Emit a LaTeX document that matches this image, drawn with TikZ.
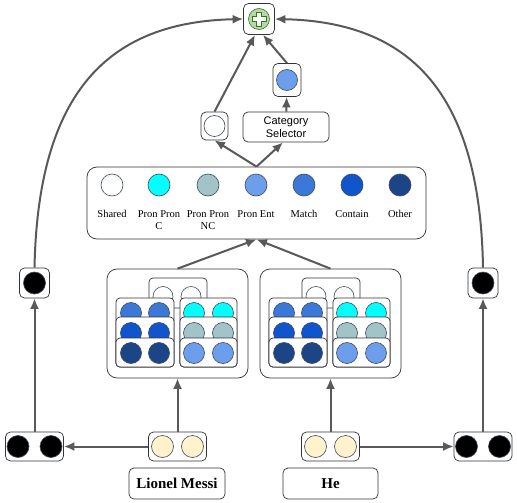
\documentclass[tikz,border=0pt]{standalone}
\usepackage{fontspec}
\setmainfont{Liberation Serif}
\newfontfamily\catfont{Liberation Sans}
\usetikzlibrary{arrows.meta}
\definecolor{myGray}{HTML}{595959}
\definecolor{myLine}{HTML}{333333}
\definecolor{myRim}{HTML}{3d4a5c}
\definecolor{myGreen}{HTML}{b6d7a8}
\definecolor{myGreenRim}{HTML}{38761d}
\definecolor{myYellow}{HTML}{fff2cc}
\definecolor{pronC}{HTML}{00ffff}
\definecolor{pronNC}{HTML}{a2c4c9}
\definecolor{pronEnt}{HTML}{6d9eeb}
\definecolor{match}{HTML}{3c78d8}
\definecolor{contain}{HTML}{1155cc}
\definecolor{other}{HTML}{1c4587}

\begin{document}
\begin{tikzpicture}[x=1pt, y=-1pt, >={Latex[length=10.5pt,width=9pt]}]

  \tikzstyle{Box}=[rectangle, rounded corners=5pt, draw=myLine, fill=white, line width=0.7pt, inner sep=0pt]
  \tikzstyle{Card}=[rounded corners=4pt, draw=myLine, fill=white, line width=0.7pt]
  \tikzstyle{Dot}=[circle, draw=myRim, line width=0.6pt, minimum size=21pt, inner sep=0pt]
  \tikzstyle{Arr}=[->, draw=myGray, line width=2pt]
  \tikzstyle{Lbl}=[anchor=north, inner sep=0pt, align=center, font=\fontsize{10.5}{12}\selectfont]
  \tikzstyle{Word}=[font=\fontsize{15}{18}\selectfont\bfseries]

  \useasboundingbox (0,0) rectangle (517,503);

  % top: sum of the two scores
  \node[Box, minimum width=31pt, minimum height=31pt] at (259,19) (plus) {};
  \node[Dot, fill=myGreen, draw=myGreenRim] at (plus) (plusdot) {};
  \begin{scope}[shift={(259,19)}]
    \draw[fill=white, draw=myGreenRim, line width=0.6pt] (-2.5,-7) -- (2.5,-7) -- (2.5,-2.5) -- (7,-2.5) -- (7,2.5) -- (2.5,2.5) -- (2.5,7) -- (-2.5,7) -- (-2.5,2.5) -- (-7,2.5) -- (-7,-2.5) -- (-2.5,-2.5) -- cycle;
  \end{scope}

  \node[Box, minimum width=28pt, minimum height=33pt] at (287,80) (bsel) {};
  \node[Dot, fill=pronEnt] at (bsel) (bseldot) {};
  \node[Box, minimum width=27pt, minimum height=28pt] at (214.5,126) (wsel) {};
  \node[Dot, fill=white] at (wsel) (wseldot) {};
  \node[Box, minimum width=86pt, minimum height=30pt, align=center, font=\catfont\fontsize{11}{13}\selectfont] at (286,127) (cat) {Category\\Selector};

  % legend of the categories
  \node[Box, rounded corners=10pt, minimum width=339pt, minimum height=72pt] at (256.5,203) (legend) {};
  \foreach \x/\c/\n/\t in {112/white/shared/Shared, 159/pronC/pronc/{Pron Pron\\C}, 208/pronNC/pronnc/{Pron Pron\\NC}, 256/pronEnt/pronent/{Pron Ent}, 304/match/match/Match, 352/contain/contain/Contain, 400/other/other/Other}{
    \node[Dot, minimum size=22pt, fill=\c] at (\x,185) (\n) {};
    \node[Lbl] at (\x,210.5) (\n lbl) {\t};
  }

  % mention pair panels
  \node[Box, rounded corners=10pt, minimum width=141pt, minimum height=109pt] at (177.5,323.5) (lpair) {};
  \node[Box, rounded corners=10pt, minimum width=141pt, minimum height=109pt] at (330.5,323.5) (rpair) {};
  \foreach \dx in {0,153}{
    \begin{scope}[xshift=\dx]
      \draw[Card] (149,278) rectangle (207,308);
      \foreach \x in {163,191}
        \draw[draw=myRim, line width=0.6pt, fill=white] (\x,296.5) circle[radius=10pt];
      \foreach \top/\cy/\cl/\cr in {298/313/match/pronC, 317/333/contain/pronNC, 338/353/other/pronEnt}{
        \draw[Card] (116,\top) rectangle (174,367);
        \draw[Card] (180,\top) rectangle (237,367);
        \foreach \x in {131,159}
          \draw[draw=myRim, line width=0.6pt, fill=\cl] (\x,\cy) circle[radius=10.5pt];
        \foreach \x in {194,223}
          \draw[draw=myRim, line width=0.6pt, fill=\cr] (\x,\cy) circle[radius=10.5pt];
      }
    \end{scope}
  }

  % words and their encodings
  \node[Box, minimum width=58pt, minimum height=29pt] at (177.5,446.5) (lyel) {};
  \node[Dot, minimum size=22pt, fill=myYellow] at (162.5,446.5) (lyel1) {};
  \node[Dot, minimum size=22pt, fill=myYellow] at (192.5,446.5) (lyel2) {};
  \node[Box, minimum width=58pt, minimum height=29pt] at (330.5,446.5) (ryel) {};
  \node[Dot, minimum size=22pt, fill=myYellow] at (315.5,446.5) (ryel1) {};
  \node[Dot, minimum size=22pt, fill=myYellow] at (345.5,446.5) (ryel2) {};

  \node[Box, minimum width=58pt, minimum height=29pt] at (34.5,446.5) (lenc) {};
  \node[Dot, minimum size=22pt, fill=black] at (18,446.5) (lenc1) {};
  \node[Dot, minimum size=22pt, fill=black] at (51,446.5) (lenc2) {};
  \node[Box, minimum width=58pt, minimum height=29pt] at (483,446.5) (renc) {};
  \node[Dot, minimum size=22pt, fill=black] at (466.5,446.5) (renc1) {};
  \node[Dot, minimum size=22pt, fill=black] at (499.5,446.5) (renc2) {};

  \node[Box, minimum width=30pt, minimum height=30pt] at (34.5,283) (lsmall) {};
  \node[Dot, minimum size=22pt, fill=black] at (lsmall) (lsmalldot) {};
  \node[Box, minimum width=30pt, minimum height=30pt] at (483,283) (rsmall) {};
  \node[Dot, minimum size=22pt, fill=black] at (rsmall) (rsmalldot) {};

  \node[Box, Word, minimum width=96pt, minimum height=31pt] at (177,483.5) (messi) {Lionel Messi};
  \node[Box, Word, minimum width=95pt, minimum height=31pt] at (330.5,483.5) (he) {He};

  % connectors
  \draw[Arr] (lyel) -- (lenc);
  \draw[Arr] (ryel) -- (renc);
  \draw[Arr] (lyel) -- (lpair);
  \draw[Arr] (ryel) -- (rpair);
  \draw[Arr] (lenc) -- (lsmall);
  \draw[Arr] (renc) -- (rsmall);
  \draw[Arr] (lpair.north) -- (legend.south);
  \draw[Arr] (rpair.north) -- (legend.south);
  \draw[Arr] (legend.north) -- (wsel.south);
  \draw[Arr] (legend.north) -- ([xshift=-3pt]cat.south);
  \draw[Arr] (cat) -- (bsel);
  \draw[Arr] (wsel.north) -- ([xshift=-4pt]plus.south);
  \draw[Arr] (bsel.north) -- ([xshift=4pt]plus.south);
  \draw[Arr] (lsmall.north) .. controls (38,90) and (110,22) .. (plus.west);
  \draw[Arr] (rsmall.north) .. controls (480,90) and (408,22) .. (plus.east);

\end{tikzpicture}
\end{document}
